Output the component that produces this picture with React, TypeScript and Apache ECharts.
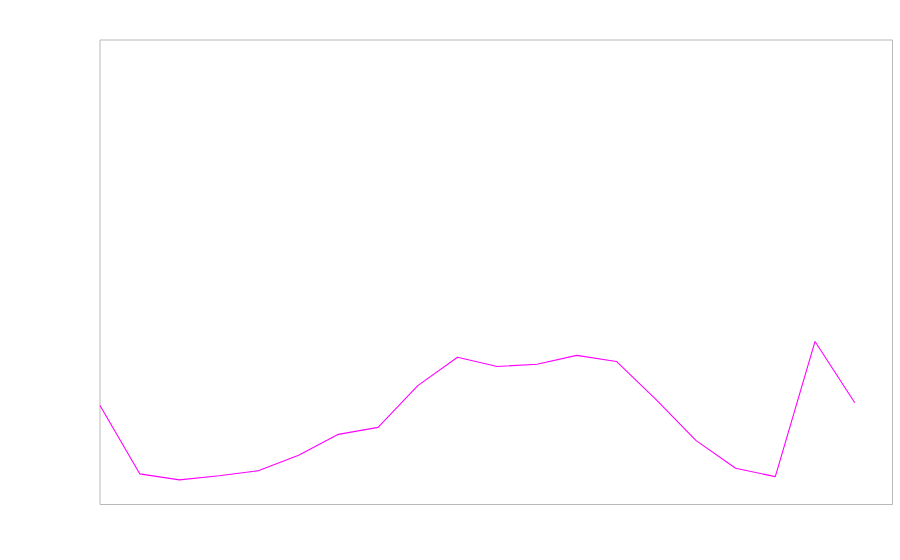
import React, { useEffect, useRef } from "react";
import * as echarts from "echarts";

const xIndex: number[] = [0, 1, 2, 3, 4, 5, 6, 7, 8, 9, 10, 11, 12, 13, 14, 15, 16, 17, 18, 19];
const values: number[] = [21.3, 6.6, 5.3, 6.2, 7.3, 10.6, 15.1, 16.6, 25.6, 31.7, 29.7, 30.2, 32.1, 30.8, 22.6, 13.8, 7.8, 6.0, 35.1, 21.9];

export default function App() {
  const ref = useRef<HTMLDivElement>(null);
  useEffect(() => {
    if (!ref.current) return;
    const chart = echarts.init(ref.current, undefined, { renderer: "svg" });
    chart.setOption({
      animation: false,
      grid: {
        show: true,
        left: 100,
        top: 40,
        right: 7.5,
        bottom: 55.5,
        borderColor: "#b8b8b8",
        borderWidth: 1,
        backgroundColor: "transparent",
      },
      xAxis: {
        type: "value",
        min: 0,
        max: 19.95,
        show: false,
      },
      yAxis: {
        type: "value",
        min: 0,
        max: 100,
        show: false,
      },
      series: [
        {
          type: "line",
          data: xIndex.map((x, i) => [x, values[i]]),
          symbol: "none",
          lineStyle: { color: "#ff00ff", width: 1.1 },
        },
      ],
    });
    return () => chart.dispose();
  }, []);
  return (
    <div
      ref={ref}
      style={{ position: "fixed", left: 0, top: 0, width: 900, height: 560, background: "#fff" }}
    />
  );
}
